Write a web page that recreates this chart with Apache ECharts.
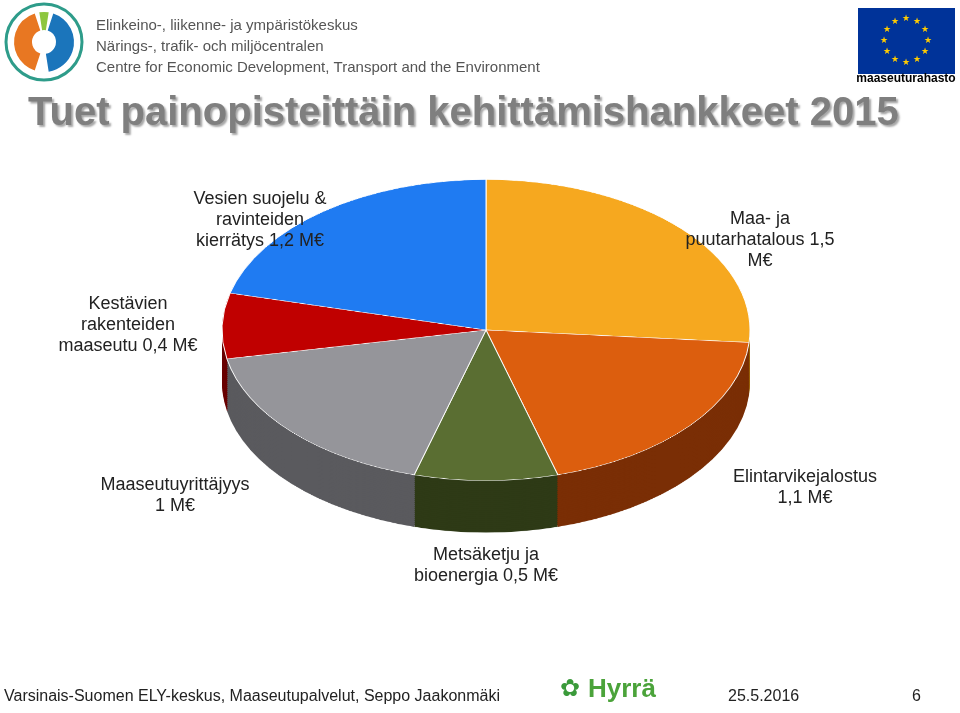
<!DOCTYPE html>
<html><head><meta charset="utf-8">
<script src="https://cdn.jsdelivr.net/npm/echarts@6/dist/echarts.min.js"></script>
<style>
html,body{margin:0;padding:0;background:#fff;}
#pie{position:absolute;left:0;top:0;width:960px;height:1250px;transform:scaleY(0.57);transform-origin:0 0;}
#main{position:absolute;left:0;top:0;width:960px;height:713px;}
</style></head><body>
<div id="pie"></div><div id="main"></div>
<script>
const categories = ['Maa- ja puutarhatalous','Elintarvikejalostus','Metsäketju ja bioenergia','Maaseutuyrittäjyys','Kestävien rakenteiden maaseutu','Vesien suojelu & ravinteiden kierrätys'];
const values = [1.5, 1.1, 0.5, 1.0, 0.4, 1.2];
const topColors = ['#F6A81F','#DC5E0E','#5A6E32','#95959A','#C00000','#1F7BF2'];
const sideColors = ['#9A6209','#7A2E05','#2E3A16','#5A5A5E','#6A0000','#0E3F85'];
const labelTexts = ['Maa- ja\npuutarhatalous 1,5\nM€','Elintarvikejalostus\n1,1 M€','Metsäketju ja\nbioenergia 0,5 M€','Maaseutuyrittäjyys\n1 M€','Kestävien\nrakenteiden\nmaaseutu 0,4 M€','Vesien suojelu &\nravinteiden\nkierrätys 1,2 M€'];
const labelPos = [[760,240],[805,488],[486,566],[175,496],[128,325],[260,220]];

const s = 0.57, cx = 486, cy = 330, r = 264, depth = 52;
const series = [];
for (let k = depth; k >= 0; k -= 2) {
  const top = k === 0;
  series.push({
    type:'pie', silent:true, startAngle:90, clockwise:true,
    center:[cx, cy / s + k / s], radius:[0, r], label:{show:false}, labelLine:{show:false},
    itemStyle:{borderWidth: top?1:0, borderColor:'#fff'},
    emphasis:{disabled:true}, animation:false,
    data: categories.map((c,i)=>({name:c, value:values[i], itemStyle:{color: top?topColors[i]:sideColors[i]}}))
  });
}
echarts.init(document.getElementById('pie')).setOption({series});

const g = [];
g.push({type:'text', left:28, top:94, style:{text:'Tuet painopisteittäin kehittämishankkeet 2015', font:'bold 40px Arial, Liberation Sans', fill:'#7F7F7F', textShadowColor:'rgba(0,0,0,0.35)', textShadowBlur:2, textShadowOffsetX:2, textShadowOffsetY:2}});
labelPos.forEach((p,i)=>g.push({type:'text', x:p[0], y:p[1], style:{text:labelTexts[i], font:'18px Arial, Liberation Sans', fill:'#222', align:'center', verticalAlign:'middle', lineHeight:21}}));
g.push({type:'circle', shape:{cx:44,cy:42,r:38}, style:{fill:'#fff', stroke:'#2E9C8A', lineWidth:3}});
g.push({type:'sector', shape:{cx:44,cy:42,r:30,r0:12,startAngle:Math.PI*0.6,endAngle:Math.PI*1.4}, style:{fill:'#E87722'}});
g.push({type:'sector', shape:{cx:44,cy:42,r:30,r0:12,startAngle:-Math.PI*0.4,endAngle:Math.PI*0.45}, style:{fill:'#1B75BB'}});
g.push({type:'sector', shape:{cx:44,cy:42,r:30,r0:12,startAngle:Math.PI*1.45,endAngle:Math.PI*1.55}, style:{fill:'#8DC63F'}});
g.push({type:'text', x:96, y:15, style:{text:'Elinkeino-, liikenne- ja ympäristökeskus\nNärings-, trafik- och miljöcentralen\nCentre for Economic Development, Transport and the Environment', font:'15px Arial, Liberation Sans', fill:'#555', lineHeight:21}});
g.push({type:'rect', shape:{x:858,y:8,width:97,height:66}, style:{fill:'#003399'}});
for (let i=0;i<12;i++){const a=i*Math.PI/6; g.push({type:'text', x:906+22*Math.cos(a), y:41+22*Math.sin(a), style:{text:'★', font:'9px DejaVu Sans', fill:'#FFCC00', align:'center', verticalAlign:'middle'}});}
g.push({type:'text', x:906, y:79, style:{text:'maaseuturahasto', font:'bold 12px Arial, Liberation Sans', fill:'#000', align:'center', verticalAlign:'middle'}});
g.push({type:'text', x:4, y:697, style:{text:'Varsinais-Suomen ELY-keskus, Maaseutupalvelut, Seppo Jaakonmäki', font:'16px Arial, Liberation Sans', fill:'#222', verticalAlign:'middle'}});
g.push({type:'text', x:560, y:690, style:{text:'✿', font:'24px DejaVu Sans', fill:'#3A9A3A', verticalAlign:'middle'}});
g.push({type:'text', x:588, y:690, style:{text:'Hyrrä', font:'bold 26px Arial, Liberation Sans', fill:'#4BA33A', verticalAlign:'middle'}});
g.push({type:'text', x:728, y:697, style:{text:'25.5.2016', font:'16px Arial, Liberation Sans', fill:'#222', verticalAlign:'middle'}});
g.push({type:'text', x:912, y:697, style:{text:'6', font:'16px Arial, Liberation Sans', fill:'#222', verticalAlign:'middle'}});
echarts.init(document.getElementById('main')).setOption({graphic:g});
</script></body></html>
